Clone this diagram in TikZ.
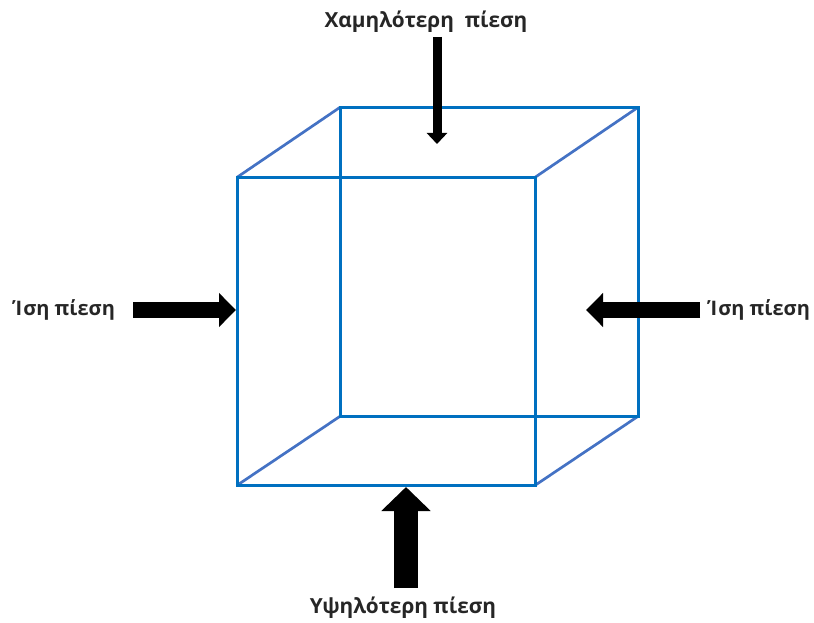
\documentclass[tikz,border=0pt]{standalone}
\usepackage{fontspec}
\setmainfont{Open Sans}
\usetikzlibrary{arrows.meta}
\definecolor{frontblue}{HTML}{0070C0}
\definecolor{slantblue}{HTML}{4472C4}
\tikzset{
  cubeline/.style={frontblue, line width=3pt, line join=miter},
  slantline/.style={slantblue, line width=2.7pt, line cap=round},
  pressure/.style={inner sep=0pt, font=\fontsize{20.8pt}{24pt}\selectfont\bfseries, text=black!85},
  sidepressure/.style={pressure, font=\fontsize{20pt}{24pt}\selectfont\bfseries},
}
\begin{document}
\begin{tikzpicture}[x=1pt,y=-1pt]
\useasboundingbox (0,0) rectangle (814,623);
\coordinate (fa) at (237.2,177.2);
\coordinate (fb) at (535.2,177.2);
\coordinate (fc) at (535.2,485.2);
\coordinate (fd) at (237.2,485.2);
\coordinate (ba) at (340.2,107.2);
\coordinate (bb) at (638.2,107.2);
\coordinate (bc) at (638.2,416.2);
\coordinate (bd) at (340.2,416.2);
\draw[slantline] (fa) -- (ba);
\draw[slantline] (fb) -- (bb);
\draw[slantline] (fc) -- (bc);
\draw[slantline] (fd) -- (bd);
\draw[cubeline] (ba) -- (bb) -- (bc) -- (bd) -- cycle;
\draw[cubeline] (fa) -- (fb) -- (fc) -- (fd) -- cycle;
\node[pressure] (top) at (426,22) {Χαμηλότερη\ \ πίεση};
\node[pressure] (bottom) at (403,608) {Υψηλότερη πίεση};
\node[sidepressure] (left) at (64,310) {Ίση πίεση};
\node[sidepressure] (right) at (759,310) {Ίση πίεση};
\coordinate (topa) at (437,37);
\coordinate (topb) at (437,144);
\coordinate (bota) at (406,588);
\coordinate (botb) at (406,487);
\coordinate (lefta) at (133,310);
\coordinate (leftb) at (236,310);
\coordinate (righta) at (700,310);
\coordinate (rightb) at (586,310);
\draw[line width=9pt, -{Triangle[length=11pt,width=20pt]}] (topa) -- (topb);
\draw[line width=24pt, -{Triangle[length=24pt,width=48pt]}] (bota) -- (botb);
\draw[line width=16pt, -{Triangle[length=17pt,width=33pt]}] (lefta) -- (leftb);
\draw[line width=16pt, -{Triangle[length=17pt,width=33pt]}] (righta) -- (rightb);
\end{tikzpicture}
\end{document}
